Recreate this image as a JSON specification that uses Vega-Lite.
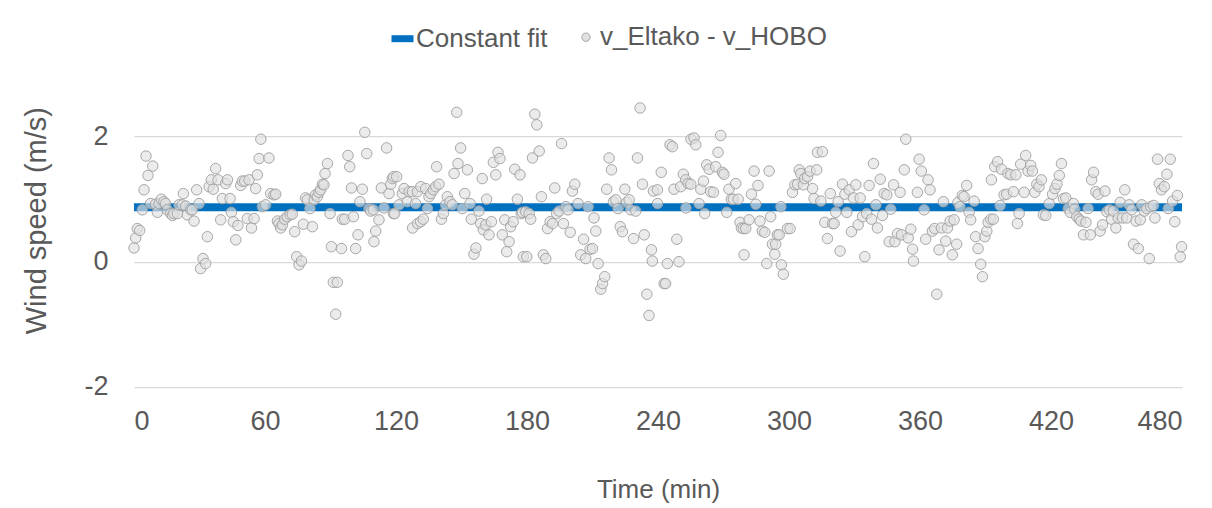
{
"$schema": "https://vega.github.io/schema/vega-lite/v6.json",
"width": 1048, "height": 312.5,
"autosize": {"type": "none"},
"padding": {"left": 134, "top": 74.2, "right": 30, "bottom": 121.3},
"background": "white",
"config": {"view": {"stroke": null}, "font": "Liberation Sans"},
"datasets": {
"fit": [{"t": 0, "v": 0.87}, {"t": 480, "v": 0.87}],
"pts": [
{"t":0,"v":0.22},{"t":0.8,"v":0.38},{"t":1.5,"v":0.53},{"t":2.6,"v":0.5},{"t":3.8,"v":0.83},{"t":4.6,"v":1.15},{"t":5.5,"v":1.69},{"t":6.4,"v":1.38},{"t":7.6,"v":0.93},{"t":8.6,"v":1.53},{"t":9.9,"v":0.92},{"t":10.7,"v":0.79},{"t":11.5,"v":0.93},{"t":12.5,"v":1.0},{"t":13.7,"v":0.96},{"t":14.5,"v":0.93},{"t":15.3,"v":0.83},{"t":16.8,"v":0.77},{"t":17.6,"v":0.74},{"t":18.3,"v":0.77},{"t":19.9,"v":0.77},{"t":20.6,"v":0.91},{"t":22.1,"v":0.91},{"t":22.6,"v":1.09},{"t":23.7,"v":0.89},{"t":24.4,"v":0.75},{"t":26,"v":0.83},{"t":26.7,"v":0.83},{"t":27.5,"v":0.65},{"t":28.7,"v":1.15},{"t":29.8,"v":0.93},{"t":30.5,"v":-0.11},{"t":31.6,"v":0.05},{"t":32.8,"v":-0.03},{"t":33.6,"v":0.4},{"t":34.4,"v":1.2},{"t":35.4,"v":1.31},{"t":36.3,"v":1.16},{"t":37.4,"v":1.49},{"t":38.5,"v":1.31},{"t":39.7,"v":0.67},{"t":40.5,"v":1.01},{"t":42,"v":1.25},{"t":42.8,"v":1.31},{"t":44,"v":1.01},{"t":44.6,"v":0.79},{"t":45.5,"v":0.64},{"t":46.6,"v":0.35},{"t":47.6,"v":0.58},{"t":48.9,"v":1.22},{"t":49.6,"v":1.29},{"t":50.7,"v":1.29},{"t":51.9,"v":0.69},{"t":52.7,"v":1.31},{"t":53.8,"v":0.54},{"t":55,"v":0.69},{"t":55.7,"v":1.17},{"t":56.5,"v":1.39},{"t":57.3,"v":1.65},{"t":58.1,"v":1.96},{"t":58.8,"v":0.88},
{"t":60.3,"v":0.91},{"t":61.8,"v":1.66},{"t":62.6,"v":1.09},{"t":64.1,"v":1.07},{"t":64.9,"v":1.08},{"t":65.7,"v":0.65},{"t":66.4,"v":0.61},{"t":67.2,"v":0.54},{"t":68,"v":0.59},{"t":69,"v":0.68},{"t":70.2,"v":0.72},{"t":71.5,"v":0.75},{"t":72.5,"v":0.76},{"t":73.6,"v":0.48},{"t":74.5,"v":0.08},{"t":75.6,"v":-0.05},{"t":76.7,"v":0.01},{"t":77.6,"v":0.6},{"t":78.6,"v":1.02},{"t":79.4,"v":0.99},{"t":80.6,"v":0.85},{"t":81.7,"v":0.56},{"t":82.5,"v":0.99},{"t":83.2,"v":1.07},{"t":84,"v":1.04},{"t":84.7,"v":1.11},{"t":85.5,"v":1.15},{"t":86.3,"v":1.24},{"t":87,"v":1.23},{"t":87.5,"v":1.41},{"t":88.6,"v":1.57},{"t":89.8,"v":0.77},{"t":90.4,"v":0.24},{"t":91.3,"v":-0.33},{"t":93.1,"v":-0.33},{"t":92.4,"v":-0.84},{"t":95,"v":0.21},{"t":95.4,"v":0.68},{"t":96.5,"v":0.68},{"t":98,"v":1.7},{"t":98.8,"v":1.52},{"t":99.6,"v":1.18},{"t":100.5,"v":0.72},{"t":101.5,"v":0.21},{"t":102.6,"v":0.43},{"t":103.5,"v":0.96},{"t":104.6,"v":1.16},{"t":105.7,"v":2.07},{"t":106.6,"v":1.73},{"t":107.6,"v":0.85},{"t":108.4,"v":0.81},{"t":109.6,"v":0.83},{"t":109.9,"v":0.32},{"t":110.7,"v":0.49},{"t":112.2,"v":0.67},{"t":113.3,"v":1.18},{"t":114.5,"v":0.86},{"t":115.7,"v":1.82},{"t":116.8,"v":1.09},{"t":117.6,"v":1.24},{"t":118.3,"v":1.33},{"t":118.8,"v":0.77},
{"t":118.9,"v":1.36},{"t":119.4,"v":0.77},{"t":120.3,"v":1.36},{"t":121.4,"v":0.91},{"t":122.9,"v":1.09},{"t":123.7,"v":1.17},{"t":125.2,"v":0.96},{"t":126,"v":1.12},{"t":127.5,"v":1.12},{"t":127.6,"v":0.54},{"t":129,"v":0.93},{"t":129.8,"v":1.12},{"t":129.9,"v":0.61},{"t":131.3,"v":0.64},{"t":131.4,"v":1.2},{"t":132.5,"v":0.68},{"t":133.6,"v":1.17},{"t":134.4,"v":0.85},{"t":135.1,"v":1.04},{"t":135.9,"v":1.09},{"t":137.1,"v":1.15},{"t":138.2,"v":1.2},{"t":138.6,"v":1.52},{"t":139.7,"v":1.24},{"t":140.8,"v":0.68},{"t":141.7,"v":0.77},{"t":142.7,"v":0.91},{"t":143.5,"v":1.04},{"t":144.7,"v":0.96},{"t":145.8,"v":0.91},{"t":146.6,"v":1.41},{"t":147.8,"v":2.39},{"t":148.4,"v":1.57},{"t":149.6,"v":1.82},{"t":150.4,"v":0.85},{"t":151.5,"v":1.09},{"t":152.7,"v":1.47},{"t":153.9,"v":0.93},{"t":154.5,"v":0.68},{"t":155.7,"v":0.12},{"t":156.6,"v":0.22},{"t":158,"v":0.81},{"t":158.8,"v":0.61},{"t":159.5,"v":1.33},{"t":160,"v":0.51},{"t":161.1,"v":0.59},{"t":161.5,"v":1.0},{"t":162.6,"v":0.43},{"t":163.7,"v":0.64},{"t":164.6,"v":1.59},{"t":165.7,"v":1.39},{"t":166.7,"v":1.75},{"t":167.6,"v":1.65},{"t":168.7,"v":0.43},{"t":169.8,"v":0.67},{"t":170.7,"v":0.16},{"t":171.8,"v":0.32},{"t":172.5,"v":0.56},{"t":173.7,"v":0.64},{"t":174.4,"v":1.48},{"t":175.6,"v":1.0},{"t":176.8,"v":1.39},{"t":177.4,"v":0.77},{"t":178.3,"v":0.08},
{"t":177.9,"v":0.79},{"t":179.4,"v":0.8},{"t":179.9,"v":0.08},{"t":181,"v":0.77},{"t":181.7,"v":0.68},{"t":182.5,"v":1.66},{"t":183.6,"v":2.36},{"t":184.5,"v":2.19},{"t":185.6,"v":1.77},{"t":186.6,"v":1.04},{"t":187.5,"v":0.11},{"t":188.6,"v":0.05},{"t":189.4,"v":0.53},{"t":190.6,"v":0.64},{"t":191.7,"v":0.61},{"t":192.7,"v":1.18},{"t":193.6,"v":0.77},{"t":194.7,"v":0.81},{"t":195.8,"v":1.89},{"t":196.7,"v":0.61},{"t":197.8,"v":0.88},{"t":198.8,"v":0.83},{"t":199.8,"v":0.47},{"t":200.8,"v":1.13},{"t":201.9,"v":1.24},{"t":203.4,"v":0.93},{"t":204.6,"v":0.11},{"t":205.9,"v":0.36},{"t":206.9,"v":0.05},{"t":208,"v":0.88},{"t":208.9,"v":0.2},{"t":210,"v":0.21},{"t":210.7,"v":0.7},{"t":211.5,"v":0.49},{"t":212.6,"v":-0.03},{"t":213.8,"v":-0.44},{"t":214.6,"v":-0.35},{"t":215.6,"v":-0.24},{"t":216.5,"v":1.16},{"t":217.6,"v":1.66},{"t":218.7,"v":1.47},{"t":219.6,"v":0.96},{"t":220.7,"v":0.99},{"t":221.7,"v":0.85},{"t":222.7,"v":0.56},{"t":223.7,"v":0.48},{"t":224.8,"v":1.16},{"t":225.7,"v":0.95},{"t":226.8,"v":0.99},{"t":227.5,"v":0.83},{"t":228.8,"v":0.37},{"t":229.8,"v":0.81},{"t":230.6,"v":1.66},{"t":231.8,"v":2.46},{"t":232.9,"v":1.24},{"t":233.7,"v":0.43},{"t":234.9,"v":-0.52},{"t":235.9,"v":-0.86},{"t":237,"v":0.19},{"t":237.9,"v":1.13},
{"t":237.4,"v":0.01},{"t":239.7,"v":1.15},{"t":239.8,"v":0.93},{"t":241.5,"v":1.43},{"t":242.8,"v":-0.35},{"t":243.5,"v":-0.35},{"t":244.3,"v":-0.03},{"t":245.5,"v":1.87},{"t":246.6,"v":1.84},{"t":247.3,"v":1.16},{"t":248.6,"v":0.36},{"t":249.6,"v":0},{"t":250.4,"v":1.2},{"t":251.6,"v":1.4},{"t":252.7,"v":1.31},{"t":252.8,"v":0.86},{"t":253.8,"v":1.25},{"t":255,"v":1.24},{"t":255.1,"v":1.96},{"t":256.5,"v":1.98},{"t":257.3,"v":1.87},{"t":258.8,"v":0.93},{"t":259.6,"v":1.16},{"t":260.8,"v":1.29},{"t":261.4,"v":0.77},{"t":262.3,"v":1.55},{"t":263.4,"v":1.48},{"t":264.1,"v":1.12},{"t":265.4,"v":1.11},{"t":266.4,"v":1.52},{"t":267.5,"v":1.75},{"t":268.7,"v":2.02},{"t":269.5,"v":1.43},{"t":270.2,"v":1.4},{"t":271.5,"v":0.79},{"t":272.5,"v":1.16},{"t":273.6,"v":1.0},{"t":274.5,"v":1.0},{"t":275.6,"v":1.25},{"t":276.7,"v":1.0},{"t":277.6,"v":0.63},{"t":278.2,"v":0.54},{"t":279.1,"v":0.53},{"t":279.4,"v":0.11},{"t":280.2,"v":0.53},{"t":281.7,"v":0.67},{"t":282.8,"v":1.08},{"t":284,"v":1.45},{"t":284.8,"v":0.92},{"t":285.8,"v":1.22},{"t":286.7,"v":0.65},{"t":287.8,"v":0.49},{"t":288.9,"v":0.47},{"t":289.8,"v":-0.03},{"t":290.9,"v":1.45},{"t":291.6,"v":0.72},{"t":292.4,"v":0.28},{"t":293.5,"v":0.12},{"t":293.9,"v":0.28},{"t":294.7,"v":0.43},{"t":295.5,"v":0.43},{"t":296.5,"v":-0.05},{"t":297.4,"v":-0.2},
{"t":296.3,"v":0.88},{"t":299.3,"v":0.53},{"t":300.5,"v":0.53},{"t":301.6,"v":1.11},{"t":302.7,"v":1.23},{"t":303.9,"v":1.24},{"t":304.7,"v":1.47},{"t":305.4,"v":1.41},{"t":306.6,"v":1.23},{"t":307.2,"v":1.33},{"t":308.5,"v":1.36},{"t":309.7,"v":1.45},{"t":310.8,"v":1.17},{"t":311.5,"v":1.01},{"t":312.7,"v":1.47},{"t":313,"v":1.75},{"t":314.6,"v":0.97},{"t":315.3,"v":1.76},{"t":316.4,"v":0.63},{"t":317.6,"v":0.37},{"t":318.9,"v":1.09},{"t":319.9,"v":0.61},{"t":320.7,"v":0.61},{"t":321.4,"v":0.79},{"t":322.5,"v":0.96},{"t":323.4,"v":0.17},{"t":324.5,"v":1.24},{"t":325.6,"v":1.08},{"t":326.5,"v":0.79},{"t":327.6,"v":1.15},{"t":328.6,"v":0.48},{"t":329.5,"v":1.02},{"t":330.6,"v":1.23},{"t":331.7,"v":0.59},{"t":332.6,"v":1.02},{"t":333.7,"v":0.72},{"t":334.7,"v":0.08},{"t":335.6,"v":0.77},{"t":336.7,"v":1.22},{"t":337.8,"v":0.68},{"t":338.7,"v":1.57},{"t":339.8,"v":0.91},{"t":340.5,"v":0.54},{"t":341.8,"v":1.32},{"t":342.8,"v":0.74},{"t":343.6,"v":1.09},{"t":344.8,"v":1.07},{"t":345.9,"v":0.32},{"t":346.6,"v":0.84},{"t":347.9,"v":1.23},{"t":348.5,"v":0.32},{"t":349.7,"v":0.45},{"t":350.9,"v":1.11},{"t":351.5,"v":0.43},{"t":352.8,"v":1.47},{"t":353.5,"v":1.96},{"t":354.6,"v":0.38},{"t":355.8,"v":0.52},{"t":356.6,"v":0.2},{"t":357,"v":0.01},
{"t":358.8,"v":1.11},{"t":359.6,"v":1.64},{"t":360.6,"v":1.45},{"t":361.9,"v":0.83},{"t":362.6,"v":0.36},{"t":363.7,"v":1.31},{"t":364.6,"v":1.15},{"t":365.7,"v":0.49},{"t":366.7,"v":0.53},{"t":367.7,"v":-0.52},{"t":368.7,"v":0.19},{"t":369.8,"v":0.54},{"t":370.7,"v":0.96},{"t":371.8,"v":0.33},{"t":372.6,"v":0.54},{"t":373.8,"v":0.65},{"t":374.8,"v":0.11},{"t":375.6,"v":0.67},{"t":376.8,"v":0.28},{"t":377.4,"v":0.95},{"t":378.3,"v":0.88},{"t":379.4,"v":1.06},{"t":380.2,"v":1.04},{"t":381.4,"v":1.22},{"t":382.5,"v":0.79},{"t":383.2,"v":0.67},{"t":384.8,"v":0.97},{"t":385.5,"v":0.4},{"t":386.6,"v":0.21},{"t":387.8,"v":-0.04},{"t":388.6,"v":-0.24},{"t":389.7,"v":0.4},{"t":390.6,"v":0.49},{"t":391.2,"v":0.63},{"t":392.4,"v":0.68},{"t":392.7,"v":1.31},{"t":393.6,"v":0.68},{"t":394.2,"v":1.52},{"t":395.5,"v":1.6},{"t":396.7,"v":0.9},{"t":397.3,"v":1.48},{"t":398.5,"v":1.07},{"t":399.7,"v":1.08},{"t":400.3,"v":1.41},{"t":401.6,"v":1.39},{"t":402.8,"v":1.12},{"t":403.9,"v":1.39},{"t":404.6,"v":0.61},{"t":405.4,"v":0.77},{"t":406.1,"v":1.56},{"t":407.7,"v":1.11},{"t":408.4,"v":1.7},{"t":409.5,"v":1.45},{"t":410.7,"v":1.54},{"t":411.5,"v":1.45},{"t":412.6,"v":1.11},{"t":413.5,"v":1.24},{"t":414.5,"v":1.2},{"t":415.6,"v":1.31},{"t":416.5,"v":0.75},
{"t":417.6,"v":0.74},{"t":419.2,"v":0.93},{"t":420.7,"v":1.08},{"t":421.8,"v":1.17},{"t":422.7,"v":1.24},{"t":423.8,"v":1.38},{"t":424.8,"v":1.57},{"t":425.7,"v":1.01},{"t":426.8,"v":1.02},{"t":427.9,"v":0.85},{"t":428.8,"v":0.79},{"t":430.3,"v":0.93},{"t":430.9,"v":0.84},{"t":431.8,"v":0.72},{"t":432.9,"v":0.68},{"t":433.7,"v":0.65},{"t":434.9,"v":0.43},{"t":436,"v":0.63},{"t":437,"v":0.85},{"t":438,"v":0.43},{"t":438.6,"v":1.31},{"t":439.5,"v":1.43},{"t":440.5,"v":1.12},{"t":441.6,"v":1.08},{"t":442.5,"v":0.49},{"t":443.6,"v":0.59},{"t":444.7,"v":1.13},{"t":445.6,"v":0.8},{"t":446.7,"v":0.83},{"t":447.7,"v":0.68},{"t":448.6,"v":0.81},{"t":449.7,"v":0.54},{"t":450.8,"v":0.7},{"t":451.7,"v":0.95},{"t":452.8,"v":0.7},{"t":453.8,"v":1.15},{"t":454.7,"v":0.7},{"t":455.8,"v":0.91},{"t":456.9,"v":0.83},{"t":457.8,"v":0.28},{"t":458.9,"v":0.65},{"t":460,"v":0.21},{"t":460.9,"v":0.67},{"t":461.5,"v":0.91},{"t":462.7,"v":0.81},{"t":463.9,"v":0.85},{"t":465,"v":0.05},{"t":465.7,"v":0.88},{"t":467,"v":0.9},{"t":467.6,"v":0.7},{"t":468.8,"v":1.64},{"t":469.6,"v":1.25},{"t":470.6,"v":1.15},{"t":471.9,"v":1.2},{"t":473.1,"v":1.4},{"t":473.7,"v":0.85},{"t":474.6,"v":1.64},{"t":475.7,"v":0.97},{"t":476.7,"v":0.64},{"t":477.9,"v":1.06},{"t":479.2,"v":0.08},{"t":479.8,"v":0.24}
]
},
"encoding": {
"x": {"field": "t", "type": "quantitative",
 "scale": {"domain": [0, 480], "nice": false, "zero": false},
 "axis": {"values": [0, 60, 120, 180, 240, 300, 360, 420, 480], "grid": false, "domain": false, "ticks": false,
  "labelFontSize": 27, "labelColor": "#595959", "labelPadding": 22, "labelFont": "Liberation Sans",
  "title": "Time (min)", "titleFontSize": 26, "titleFontWeight": "normal", "titleColor": "#595959", "titleFont": "Liberation Sans",
  "titleY": 111, "titleBaseline": "alphabetic"}},
"y": {"field": "v", "type": "quantitative",
 "scale": {"domain": [-2, 3], "nice": false, "zero": false},
 "axis": {"values": [-2, 0, 2], "grid": true, "gridColor": "#D9D9D9", "gridWidth": 1.3, "domain": false, "ticks": false,
  "labelFontSize": 27, "labelColor": "#595959", "labelPadding": 26, "labelFont": "Liberation Sans",
  "labelExpr": "'' + datum.value",
  "title": "Wind speed (m/s)", "titleFontSize": 29, "titleFontWeight": "normal", "titleColor": "#595959", "titleFont": "Liberation Sans",
  "titleAngle": 270, "titleX": -89, "titleY": 146, "titleAlign": "center", "titleBaseline": "alphabetic"}}
},
"layer": [
{"data": {"name": "fit"},
 "mark": {"type": "line", "strokeWidth": 8, "strokeCap": "butt"},
 "encoding": {"stroke": {"datum": "Constant fit", "type": "nominal", "scale": {"range": ["#0070C0"]},
  "legend": {"orient": "none", "legendX": 254, "legendY": -50, "title": null, "padding": 0,
   "symbolType": "stroke", "symbolSize": 484, "symbolStrokeWidth": 7,
   "labelFontSize": 26, "labelColor": "#595959", "labelFont": "Liberation Sans", "labelOffset": -1, "labelLimit": 0}}}},
{"data": {"name": "pts"},
 "mark": {"type": "point", "shape": "circle", "filled": true, "size": 110, "fillOpacity": 0.65, "stroke": "#9E9E9E", "strokeWidth": 1, "strokeOpacity": 0.9},
 "encoding": {"fill": {"datum": "v_Eltako - v_HOBO", "type": "nominal", "scale": {"range": ["#E0E0E0"]},
  "legend": {"orient": "none", "legendX": 439, "legendY": -50, "title": null, "padding": 0,
   "symbolType": "circle", "symbolSize": 70, "symbolStrokeColor": "#A6A6A6", "symbolStrokeWidth": 1, "symbolFillColor": "#E8E8E8",
   "labelFontSize": 26, "labelColor": "#595959", "labelFont": "Liberation Sans", "labelOffset": 1, "labelLimit": 0}}}}
]
}
